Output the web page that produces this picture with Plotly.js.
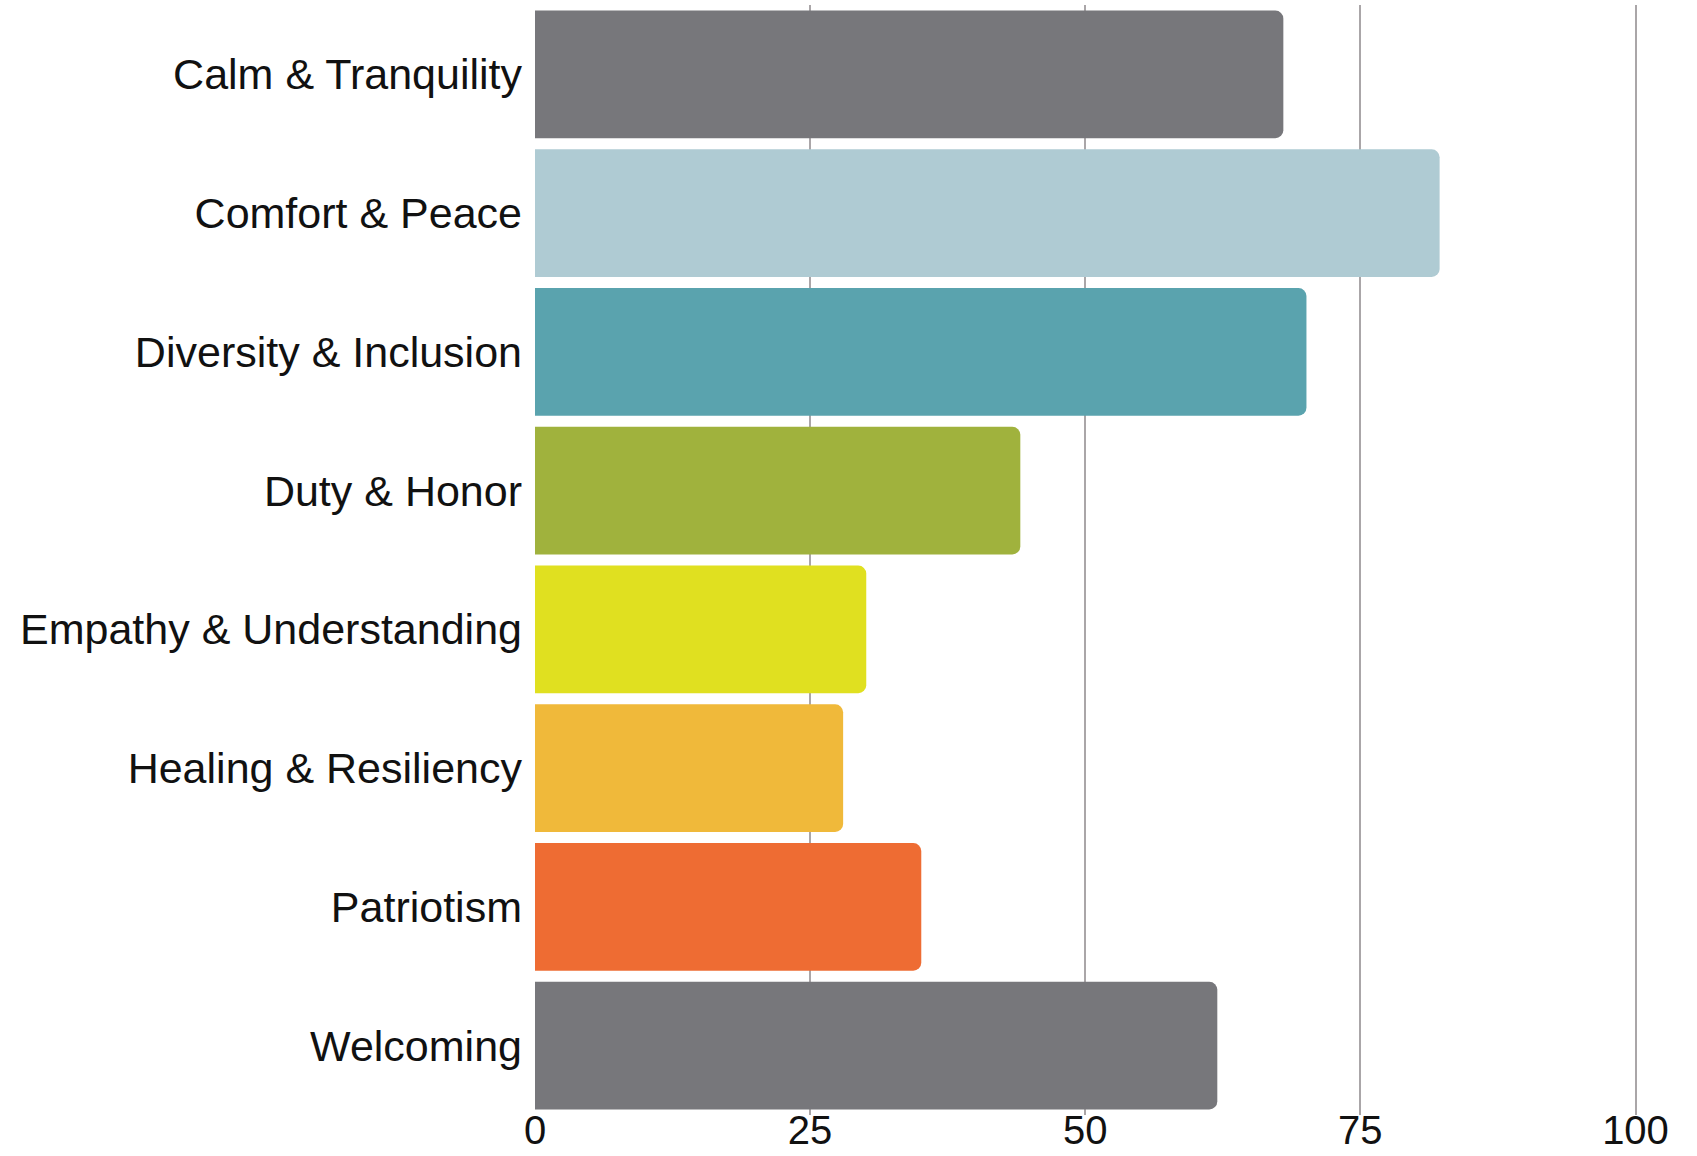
<!DOCTYPE html>
<html>
<head>
<meta charset="utf-8">
<script src="https://cdn.plot.ly/plotly-3.0.1.min.js"></script>
<style>
  html, body { margin: 0; padding: 0; background: #ffffff; }
  #chart { width: 1697px; height: 1156px; }
</style>
</head>
<body>
<div id="chart"></div>
<script>
const categories = [
  "Calm & Tranquility",
  "Comfort & Peace",
  "Diversity & Inclusion",
  "Duty & Honor",
  "Empathy & Understanding",
  "Healing & Resiliency",
  "Patriotism",
  "Welcoming"
];

const values = [68, 82.2, 70.1, 44.1, 30.1, 28, 35.1, 62];

const barColors = [
  "#77777b",
  "#afcbd3",
  "#5aa3ae",
  "#a0b23d",
  "#e0e020",
  "#f0b93a",
  "#ee6c33",
  "#77777b"
];

const tickVals = [0, 25, 50, 75, 100];

const trace = {
  type: "bar",
  orientation: "h",
  x: values,
  y: categories,
  marker: { color: barColors, cornerradius: 8, line: { width: 0 } },
  hoverinfo: "x+y"
};

const layout = {
  width: 1697,
  height: 1156,
  paper_bgcolor: "#ffffff",
  plot_bgcolor: "#ffffff",
  margin: { l: 535, r: 56, t: 5, b: 41 },
  font: { family: "'Liberation Sans', Arial, sans-serif", size: 43, color: "#111111" },
  bargap: 0.08,
  showlegend: false,
  xaxis: {
    range: [0, 100.5],
    tickvals: tickVals,
    ticktext: tickVals.map(String),
    showgrid: true,
    gridcolor: "#aaa6a8",
    gridwidth: 2,
    zeroline: false,
    showline: false,
    ticks: "",
    tickfont: { size: 40 },
    ticklabelstandoff: -12
  },
  yaxis: {
    type: "category",
    categoryorder: "array",
    categoryarray: categories,
    autorange: "reversed",
    showgrid: false,
    zeroline: false,
    showline: false,
    ticks: "",
    ticklabelstandoff: 12,
    tickfont: { size: 43 }
  }
};

Plotly.newPlot("chart", [trace], layout, { displayModeBar: false, staticPlot: true });
</script>
</body>
</html>
